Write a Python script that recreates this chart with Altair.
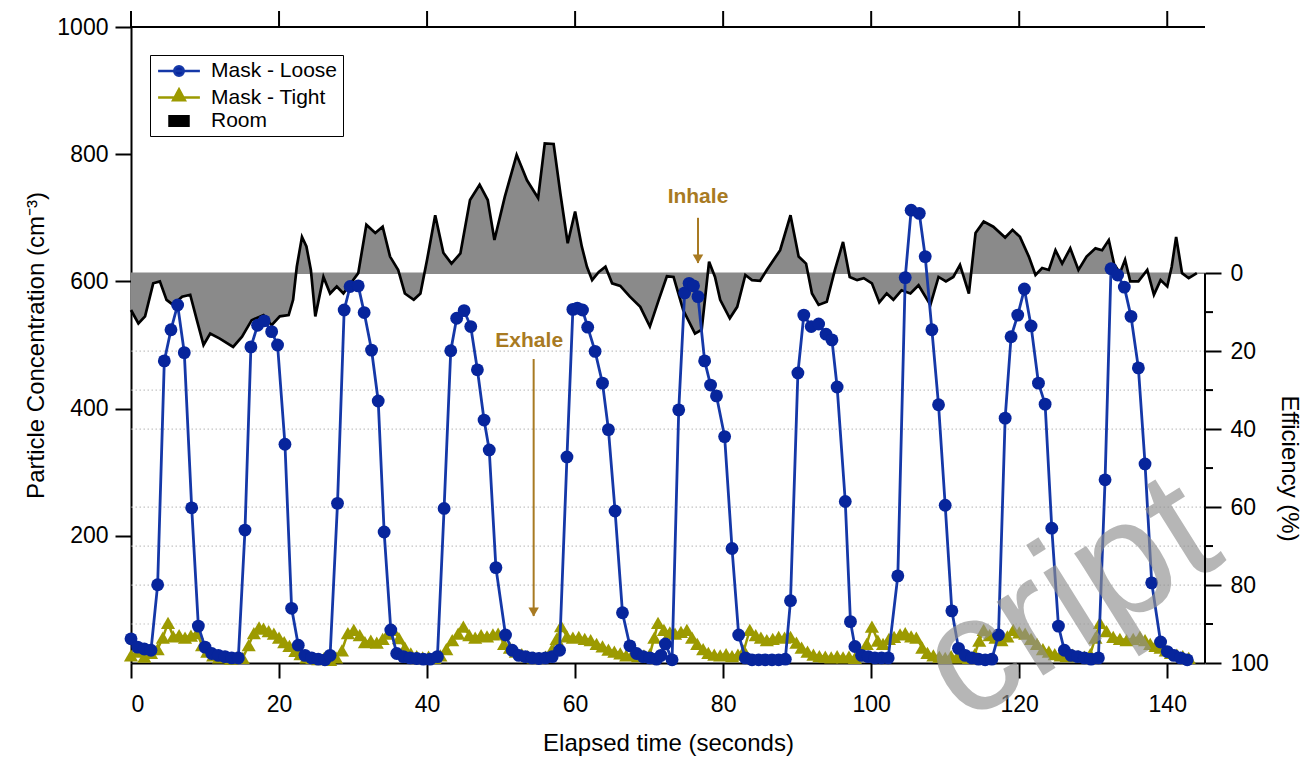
import altair as alt
import pandas as pd

# ------------------------------------------------------------------ data
loose_t = [0.0, 0.9, 1.8, 2.7, 3.6, 4.5, 5.4, 6.3, 7.2, 8.2, 9.1, 10.0, 10.9, 11.8, 12.7, 13.6, 14.5,
           15.4, 16.2, 17.1, 18.0, 19.0, 19.8, 20.8, 21.7, 22.6, 23.5, 24.4, 25.3, 26.2, 26.9,
           27.9, 28.8, 29.6, 30.7, 31.5, 32.5, 33.4, 34.2, 35.1, 35.9, 36.8, 37.7, 38.6, 39.5, 40.4, 41.4,
           42.3, 43.2, 44.0, 45.0, 45.9, 46.8, 47.7, 48.4, 49.3, 50.6, 51.5, 52.4, 53.3, 54.2, 55.1, 56.0, 56.9, 57.9,
           58.9, 59.7, 60.3, 61.0, 61.7, 62.7, 63.7, 64.5, 65.4, 66.4, 67.4, 68.3, 69.2, 70.1, 71.0, 71.6, 72.2, 73.1,
           74.0, 74.8, 75.4, 76.0, 76.6, 77.5, 78.3, 79.1, 80.2, 81.2, 82.1, 83.0, 83.9, 84.8, 85.7, 86.6, 87.5, 88.4,
           89.1, 90.1, 90.9, 91.9, 92.9, 93.9, 94.7, 95.4, 96.5, 97.2, 97.8, 98.7, 99.6, 100.5, 101.4, 102.3,
           103.6, 104.6, 105.4, 106.5, 107.3, 108.2, 109.1, 110.0, 110.9, 111.8, 112.7, 113.6, 114.5, 115.4, 116.3,
           117.2, 118.1, 118.9, 119.8, 120.7, 121.6, 122.6, 123.5, 124.4, 125.3, 126.1, 127.0, 127.9, 128.8, 129.7, 130.7,
           131.6, 132.4, 133.3, 134.2, 135.1, 136.1, 137.0, 137.9, 139.1, 140.0, 140.9, 141.8, 142.7]
loose_c = [38, 25, 22, 20, 123, 475, 524, 563, 488, 244, 58, 25, 15, 12, 10, 8, 8,
           209, 497, 531, 538, 521, 500, 344, 86, 28, 12, 8, 6, 5, 12,
           251, 555, 592, 593, 551, 492, 412, 206, 52, 15, 10, 8, 7, 6, 6, 10,
           243, 491, 542, 554, 529, 461, 382, 335, 150, 44, 20, 12, 10, 8, 7, 8, 10, 20,
           324, 556, 558, 555, 528, 490, 440, 367, 239, 79, 27, 15, 10, 8, 6, 12, 30, 5,
           398, 582, 597, 593, 576, 475, 437, 420, 356, 180, 44, 8, 5, 5, 5, 5, 5, 6,
           98, 456, 547, 529, 533, 517, 508, 434, 254, 65, 26, 12, 10, 8, 8, 8,
           137, 606, 712, 707, 639, 524, 406, 248, 82, 23, 12, 8, 6, 5, 6,
           44, 385, 513, 547, 588, 530, 440, 407, 212, 58, 20, 12, 10, 8, 6, 8,
           288, 620, 610, 591, 545, 464, 313, 126, 33, 18, 12, 8, 5]

tight_t = [0.0, 0.9, 1.8, 2.7, 3.6, 4.3, 5.0, 5.7, 6.5, 7.3, 8.1, 8.9, 9.6, 10.3, 11.1, 11.9, 12.7, 13.5, 14.3, 15.1,
           15.9, 16.6, 17.3, 17.9, 18.6, 19.3, 20.0, 20.7, 21.4, 22.2, 22.9, 23.7, 24.5, 25.3, 26.1, 26.9, 27.7,
           28.5, 29.3, 30.1, 30.9, 31.6, 32.4, 33.2, 34.0, 34.7, 35.4, 36.2, 37.0, 37.8, 38.6, 39.4, 40.2, 41.0, 41.8,
           42.6, 43.4, 44.2, 44.9, 45.7, 46.5, 47.3, 48.1, 48.9, 49.6, 50.4, 51.2, 52.0, 52.8, 53.6, 54.4, 55.2, 56.0,
           56.8, 57.5, 58.1, 58.9, 59.7, 60.5, 61.3, 62.1, 62.9, 63.7, 64.5, 65.3, 66.1, 66.9, 67.7, 68.5, 69.3, 70.1,
           70.7, 71.2, 72.0, 72.8, 73.5, 74.3, 75.1, 75.8, 76.5, 77.3, 78.0, 78.8, 79.6, 80.4, 81.2, 82.0,
           82.8, 83.6, 84.4, 85.1, 85.9, 86.7, 87.5, 88.3, 89.1, 89.9, 90.6, 91.4, 92.2, 93.0, 93.8, 94.6, 95.4, 96.2, 97.0, 97.8, 98.6,
           99.4, 100.1, 100.9, 101.6, 102.4, 103.1, 103.9, 104.6, 105.4, 106.1, 106.9, 107.6, 108.4, 109.2, 110.0, 110.8, 111.6, 112.4, 113.2,
           114.0, 114.6, 115.2, 116.0, 116.8, 117.6, 118.4, 119.2, 120.0, 120.8, 121.6, 122.4, 123.2, 124.0, 124.8, 125.6, 126.4, 127.2, 128.0, 128.8, 129.6,
           130.3, 130.9, 131.8, 132.7, 133.6, 134.5, 135.4, 136.3, 137.0, 137.7, 138.4, 139.1, 139.8, 140.5, 141.3, 142.1, 142.9]
tight_c = [12, 18, 10, 16, 22, 40, 63, 42, 44, 40, 43, 47, 28, 18, 12, 9, 10, 7, 9, 8,
           28, 47, 56, 54, 50, 46, 40, 33, 27, 19, 14, 9, 8, 6, 8, 5, 9,
           20, 47, 52, 44, 33, 35, 32, 38, 46, 52, 39, 24, 15, 11, 9, 10, 8, 12,
           22, 36, 46, 57, 44, 40, 44, 42, 45, 46, 30, 24, 18, 14, 11, 9, 8, 10,
           20, 38, 58, 42, 40, 41, 38, 36, 30, 26, 21, 18, 15, 12, 13, 11, 12, 14,
           40, 63, 52, 48, 46, 49, 52, 40, 30, 22, 16, 13, 12, 14, 11, 13,
           20, 52, 44, 40, 36, 38, 41, 40, 41, 32, 24, 18, 13, 11, 10, 9, 11, 9, 10, 8, 12,
           30, 57, 35, 30, 38, 41, 45, 47, 42, 40, 24, 16, 12, 10, 8, 11, 9, 10, 8,
           14, 35, 52, 44, 40, 36, 42, 52, 48, 46, 38, 30, 22, 18, 14, 12, 11, 13, 11, 10, 14,
           40, 63, 50, 41, 38, 36, 38, 41, 36, 30, 27, 24, 20, 16, 13, 11, 8]

room_t = [0.0, 1.0, 1.9, 3.0, 3.9, 4.8, 5.7, 6.9, 8.0, 8.9, 9.8, 10.7, 12.0, 13.8, 15.0, 16.3, 17.9, 19.0, 20.1, 21.3,
          21.9, 22.4, 23.1, 23.7, 24.3, 24.9, 26.0, 26.9, 27.8, 28.7, 29.7, 30.7, 31.8, 33.0, 34.0, 35.0, 36.1, 37.0, 38.2, 39.1,
          40.0, 41.1, 42.2, 43.3, 44.5, 45.8, 47.1, 48.2, 49.1, 50.5, 52.1, 53.5, 55.0, 55.9, 57.1, 58.0, 59.0, 60.0, 60.9, 61.6,
          62.3, 63.2, 64.1, 65.0, 66.1, 67.4, 68.8, 70.1, 71.3, 72.4, 73.3, 74.6, 76.2, 77.1, 78.1, 78.9, 79.6, 80.9, 81.9, 83.0,
          83.9, 85.0, 85.9, 87.7, 89.1, 90.2, 91.2, 92.0, 92.9, 94.0, 95.1, 96.2, 97.1, 98.1, 99.0, 100.1, 101.1, 102.1, 103.0, 104.1,
          105.3, 106.4, 108.0, 109.1, 110.1, 111.1, 112.0, 113.2, 114.1, 115.2, 116.5, 118.1, 119.1, 120.1, 121.3, 122.2, 123.1, 124.0, 124.9, 125.8,
          126.9, 128.0, 129.1, 130.3, 131.2, 132.1, 132.8, 133.6, 134.3, 135.0, 136.1, 137.3, 138.2, 139.1, 140.0, 140.6, 141.2, 142.0, 142.9, 144.0]
room_c = [555, 534, 545, 597, 600, 571, 563, 576, 579, 539, 500, 518, 510, 497, 513, 539, 547, 531, 545, 547,
          571, 623, 670, 655, 618, 545, 607, 581, 592, 581, 597, 613, 689, 676, 686, 639, 618, 581, 571, 581,
          634, 704, 645, 628, 644, 728, 752, 728, 665, 733, 799, 759, 731, 817, 816, 739, 660, 710, 655, 623,
          602, 615, 623, 597, 593, 576, 560, 529, 571, 608, 607, 555, 518, 524, 631, 607, 571, 542, 560, 610,
          602, 601, 618, 649, 704, 639, 628, 581, 563, 568, 618, 662, 607, 602, 605, 597, 567, 581, 571, 586,
          581, 594, 563, 607, 600, 607, 626, 581, 676, 694, 686, 669, 681, 670, 639, 610, 621, 618, 649, 628,
          652, 618, 639, 652, 649, 665, 628, 613, 634, 600, 600, 618, 579, 602, 592, 623, 670, 613, 605, 613]

room_baseline = 613.0                     # concentration lined up with 0 % efficiency
x_tick_values = [0, 20, 40, 60, 80, 100, 120, 140]
y_tick_values = [200, 400, 600, 800, 1000]
eff_major_ticks = [0, 20, 40, 60, 80, 100]
eff_minor_ticks = [10, 30, 50, 70, 90]
eff_grid_values = [20, 30, 40, 60, 70, 80, 90]
series_names = ["Mask - Loose", "Mask - Tight", "Room"]

note_t = [53.8, 76.6]
note_c = [506, 733]
note_text = ["Exhale", "Inhale"]
arrow_t = [54.4, 76.6]
arrow_from = [478, 700]
arrow_to = [74, 629]
watermark_text = "cript"

# ------------------------------------------------------------------ style
W, H = 1074, 636
FONT = "Liberation Sans, Arial, Helvetica, sans-serif"
BLUE_PT = "#07259c"
BLUE_LN = "#1538a8"
OLIVE = "#9c9a00"
GRAY = "#8a8a8a"
BROWN = "#a87a22"

symbol_paths = [
    "M-2.2,0H2.2M0.5,0A0.5,0.5,0,1,1,-0.5,0A0.5,0.5,0,1,1,0.5,0Z",
    "M-2.2,0H2.2M0,-0.85L0.62,0.3L-0.62,0.3Z",
    "M-1,-0.5H1V0.5H-1Z",
]

# ------------------------------------------------------------------ frames
df_loose = pd.DataFrame({"t": loose_t, "c": loose_c})
df_tight = pd.DataFrame({"t": tight_t, "c": tight_c})
df_room = pd.DataFrame({"t": room_t, "c": room_c})
df_notes = pd.DataFrame({"t": note_t, "c": note_c, "label": note_text})
df_arrows = pd.DataFrame({"t": arrow_t, "c": arrow_from, "c2": arrow_to})
df_heads = pd.DataFrame({"t": arrow_t, "c": arrow_to})

x_scale = alt.Scale(domain=[0, 145.1], nice=False, zero=False)
y_scale = alt.Scale(domain=[0, 1000], nice=False)
eff_top = 100 * (1 - 1000 / room_baseline)
eff_scale = alt.Scale(domain=[eff_top, 100], reverse=True, nice=False, zero=False)

x_axis = alt.Axis(values=x_tick_values, title="Elapsed time (seconds)", tickSize=15,
                  labelPadding=15, titlePadding=15, grid=False, format="d")
left_axis = alt.Axis(orient="left", values=y_tick_values, title="Particle Concentration (cm⁻³)",
                     tickSize=16, labelPadding=7, titlePadding=8, grid=False, format="d")
right_axis = alt.Axis(orient="right", values=eff_major_ticks, title="Efficiency (%)",
                      tickSize=16, labelPadding=9, titlePadding=8, domain=False, grid=False,
                      titleY=441, format="d")

X = alt.X("t:Q", scale=x_scale, axis=x_axis)
Y = alt.Y("c:Q", scale=y_scale, axis=left_axis)

grid = (alt.Chart(pd.DataFrame({"e": eff_grid_values}))
        .transform_calculate(c=f"{room_baseline} * (1 - datum.e / 100)")
        .mark_rule(color="#c4c4c4", strokeWidth=1.2, strokeDash=[1.5, 2.5])
        .encode(y=Y))

room_area = alt.Chart(df_room).mark_area(color=GRAY, opacity=1).encode(
    x=X, y=Y, y2=alt.datum(room_baseline))
baseline_rule = alt.Chart(pd.DataFrame({"c": [room_baseline]})).mark_rule(
    color=GRAY, strokeWidth=1.5).encode(y=Y)
room_line = alt.Chart(df_room).mark_line(color="black", strokeWidth=2.7).encode(x=X, y=Y)

tight_line = alt.Chart(df_tight).mark_line(color=OLIVE, strokeWidth=2.5).encode(x=X, y=Y)
tight_pts = alt.Chart(df_tight).mark_point(shape="triangle-up", filled=True, size=200,
                                           color=OLIVE, opacity=1).encode(x=X, y=Y)
loose_line = alt.Chart(df_loose).mark_line(color=BLUE_LN, strokeWidth=2.8).encode(x=X, y=Y)
loose_pts = alt.Chart(df_loose).mark_point(shape="circle", filled=True, size=165,
                                           color=BLUE_PT, opacity=1).encode(x=X, y=Y)

arrows = alt.Chart(df_arrows).mark_rule(color=BROWN, strokeWidth=2).encode(
    x=X, y=Y, y2="c2:Q")
heads = alt.Chart(df_heads).mark_point(shape="triangle-down", filled=True, size=110,
                                       color=BROWN, opacity=1, yOffset=-4).encode(x=X, y=Y)
notes = alt.Chart(df_notes).mark_text(font=FONT, fontSize=21, fontWeight="bold", color=BROWN,
                                      align="center", baseline="middle").encode(
    x=X, y=Y, text="label:N")

top_line = alt.Chart(pd.DataFrame({"k": [0]})).mark_rule(color="black", strokeWidth=2).encode(
    x=alt.value(0), x2=alt.value(W), y=alt.value(0))
top_ticks = alt.Chart(pd.DataFrame({"t": x_tick_values})).mark_rule(
    color="black", strokeWidth=2).encode(x=X, y=alt.value(0), y2=alt.value(-16))

watermark = alt.Chart(pd.DataFrame({"label": [watermark_text]})).mark_text(
    font=FONT, fontSize=165, color="#909090", opacity=0.65, angle=328,
    align="right", baseline="alphabetic").encode(
    x=alt.value(1097), y=alt.value(533), text="label:N")

leg = alt.Legend(title=None, orient="none", legendX=19, legendY=28, symbolSize=361,
                 symbolStrokeWidth=2.5, symbolOffset=13, labelOffset=21, rowPadding=2.5,
                 padding=5, strokeColor="black", fillColor="white", labelFont=FONT,
                 labelFontSize=21, labelColor="black")
legend_layer = alt.Chart(pd.DataFrame({"series": series_names})).mark_point(
    filled=True, opacity=1, strokeWidth=2.5).encode(
    x=alt.value(-600), y=alt.value(-600),
    fill=alt.Fill("series:N", scale=alt.Scale(domain=series_names,
                                              range=[BLUE_PT, OLIVE, "black"]), legend=leg),
    stroke=alt.Stroke("series:N", scale=alt.Scale(domain=series_names,
                                                  range=[BLUE_LN, OLIVE, "black"]), legend=leg),
    shape=alt.Shape("series:N", scale=alt.Scale(domain=series_names, range=symbol_paths),
                    legend=leg),
)

conc = alt.layer(grid, room_area, baseline_rule, room_line, tight_line, tight_pts,
                 loose_line, loose_pts, arrows, heads, notes, top_line, top_ticks,
                 watermark, legend_layer)

eff_line = alt.Chart(pd.DataFrame({"e": [0], "e2": [100]})).mark_rule(
    color="black", strokeWidth=2).encode(
    x=alt.value(W), y=alt.Y("e:Q", scale=eff_scale, axis=right_axis), y2="e2:Q")
eff_minor = alt.Chart(pd.DataFrame({"e": eff_minor_ticks})).mark_rule(
    color="black", strokeWidth=2).encode(
    x=alt.value(W), x2=alt.value(W + 8), y=alt.Y("e:Q", scale=eff_scale, axis=right_axis))
eff = alt.layer(eff_line, eff_minor)

chart = (alt.layer(conc, eff)
         .resolve_scale(y="independent")
         .properties(width=W, height=H,
                     padding={"left": 131, "top": 27, "right": 110, "bottom": 97},
                     autosize=alt.AutoSizeParams(type="none"))
         .configure_view(stroke=None)
         .configure_axis(labelFont=FONT, titleFont=FONT, labelFontSize=23, titleFontSize=24,
                         titleFontWeight="normal", labelColor="black", titleColor="black",
                         domainColor="black", tickColor="black", domainWidth=2, tickWidth=2))

chart.save("out.html", embed_options={"renderer": "svg", "actions": False})
